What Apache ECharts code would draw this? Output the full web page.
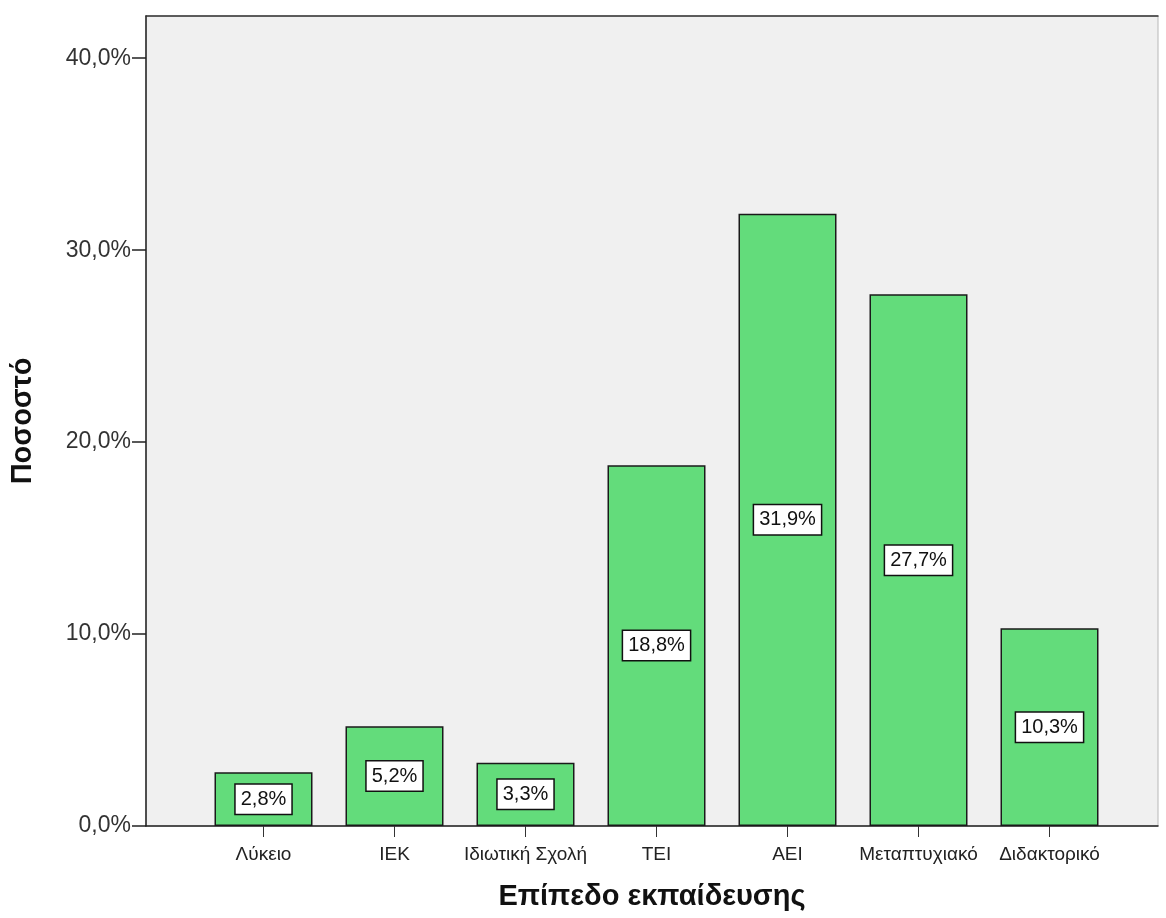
<!DOCTYPE html>
<html>
<head>
<meta charset="utf-8">
<script src="https://cdn.jsdelivr.net/npm/echarts@6/dist/echarts.min.js"></script>
<style>
  html, body { margin: 0; padding: 0; background: #ffffff; }
  #chart { width: 1166px; height: 918px; }
</style>
</head>
<body>
<div id="chart"></div>
<script>
// Education level distribution (percent of respondents)
const categories = ['Λύκειο', 'ΙΕΚ', 'Ιδιωτική Σχολή', 'ΤΕΙ', 'ΑΕΙ', 'Μεταπτυχιακό', 'Διδακτορικό'];
const percentages = [2.8, 5.2, 3.3, 18.8, 31.9, 27.7, 10.3];
const yTicks = [0, 10, 20, 30, 40];
const yMax = 42.2;

const fmt = v => v.toFixed(1).replace('.', ',') + '%';
const FONT = '"Liberation Sans", Arial, sans-serif';

const chart = echarts.init(document.getElementById('chart'), null, { renderer: 'canvas' });

chart.setOption({
  animation: false,
  textStyle: { fontFamily: FONT },
  grid: [
    // outer frame: shaded plotting area spanning the whole axis
    { left: 146, top: 16, width: 1012, height: 810, show: true, outerBoundsMode: 'none',
      containLabel: false,
      backgroundColor: '#f0f0f0', borderColor: '#b8b8b8', borderWidth: 1 },
    // inner band where the category bars sit
    { left: 198, top: 16, width: 917, height: 810, outerBoundsMode: 'none', containLabel: false }
  ],
  xAxis: [
    { gridIndex: 0, type: 'value', min: 0, max: 1,
      axisLine: { show: true, onZero: false, lineStyle: { color: '#222', width: 1.5 } },
      axisTick: { show: false }, axisLabel: { show: false }, splitLine: { show: false },
      name: 'Επίπεδο εκπαίδευσης', nameLocation: 'middle', nameGap: 56,
      nameTextStyle: { fontFamily: FONT, fontSize: 29, fontWeight: 'bold', color: '#111' } },
    { gridIndex: 0, type: 'value', min: 0, max: 1, position: 'top',
      axisLine: { show: true, onZero: false, lineStyle: { color: '#333', width: 1.5 } },
      axisTick: { show: false }, axisLabel: { show: false }, splitLine: { show: false } },
    { gridIndex: 1, type: 'category', data: categories,
      axisLine: { show: false },
      axisTick: { show: true, alignWithLabel: true, length: 11, inside: false,
                  lineStyle: { color: '#333', width: 1 } },
      axisLabel: { fontFamily: FONT, fontSize: 19, color: '#222', margin: 19, interval: 0 } }
  ],
  yAxis: [
    { gridIndex: 0, type: 'value', min: 0, max: yMax, interval: 10,
      axisLine: { show: true, lineStyle: { color: '#222', width: 1.5 } },
      axisTick: { show: true, length: 14, lineStyle: { color: '#222', width: 1.5 },
                  customValues: yTicks },
      axisLabel: { fontFamily: FONT, fontSize: 23, color: '#333', margin: 15,
                   customValues: yTicks, formatter: v => fmt(v) },
      splitLine: { show: false },
      name: 'Ποσοστό', nameLocation: 'middle', nameGap: 109, nameRotate: 90,
      nameTextStyle: { fontFamily: FONT, fontSize: 29, fontWeight: 'bold', color: '#111' } },
    { gridIndex: 1, type: 'value', min: 0, max: yMax, show: false }
  ],
  series: [{
    type: 'bar',
    xAxisIndex: 2, yAxisIndex: 1,
    data: percentages,
    barWidth: 98,
    itemStyle: { color: '#63dc7b', borderColor: '#1a1a1a', borderWidth: 1.5 },
    label: {
      show: true, position: 'inside',
      formatter: p => fmt(p.value),
      fontFamily: FONT, fontSize: 20, color: '#111',
      backgroundColor: '#ffffff', borderColor: '#111', borderWidth: 1.5,
      padding: [5, 5, 4, 5]
    }
  }]
});
</script>
</body>
</html>
